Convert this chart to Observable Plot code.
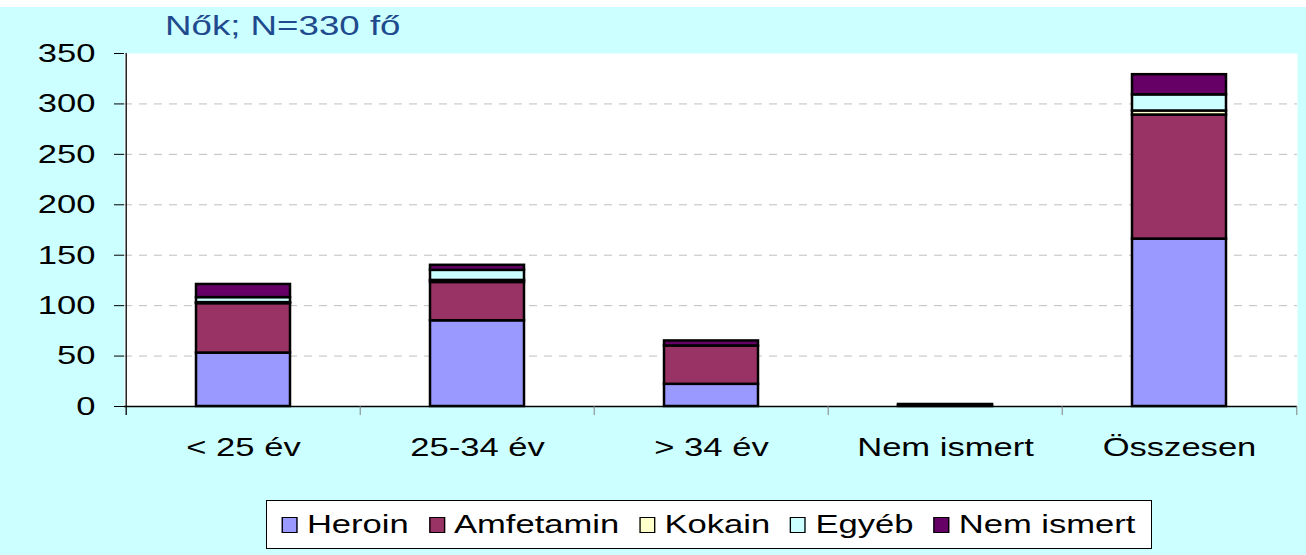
<!DOCTYPE html>
<html>
<head>
<meta charset="utf-8">
<script src="https://cdn.jsdelivr.net/npm/d3@7"></script>
<script src="https://cdn.jsdelivr.net/npm/@observablehq/plot@0.6"></script>
<style>
  html, body { margin: 0; padding: 0; }
  body {
    width: 1306px; height: 555px; position: relative; overflow: hidden;
    background: linear-gradient(#ffffff 0 7px, #CCFFFF 7px);
    font-family: "Liberation Sans", Arial, sans-serif;
  }
  #chart { position: absolute; left: 0; top: 0; }
  #title {
    position: absolute; left: 165px; top: 12px; font-size: 28px; line-height: 1;
    color: #1F4B8E; white-space: nowrap; transform-origin: left center; transform: scaleX(1.31);
  }
  #legend {
    position: absolute; left: 266px; top: 500px; width: 884px; height: 47px;
    background: #fff; border: 1px solid #000; overflow: hidden;
  }
  #legend .row {
    position: absolute; left: 0; top: 0; height: 47px; display: flex; align-items: center;
    padding-left: 11px; transform-origin: left center; transform: scaleX(1.33);
    white-space: nowrap; font-size: 26px; color: #000;
  }
  #legend .item { display: flex; align-items: center; margin-right: 15px; }
  #legend .sw { width: 12px; height: 16px; border: 1.5px solid #000; box-sizing: border-box; margin-right: 7px; }
</style>
</head>
<body>
<div id="chart"></div>
<div id="title">Nők; N=330 fő</div>
<div id="legend"><div class="row"></div></div>
<script>
// ---- data ----
const categories = ["< 25 év", "25-34 év", "> 34 év", "Nem ismert", "Összesen"];
const series = ["Heroin", "Amfetamin", "Kokain", "Egyéb", "Nem ismert"];
const heroin    = [53, 85, 22, 1, 166];
const amfetamin = [49, 38, 38, 0, 123];
const kokain    = [1, 2, 0, 0, 4];
const egyeb     = [5, 10, 0, 0, 16];
const nemIsmert = [13, 5, 5, 1, 20];
const colors = ["#9999FF", "#993366", "#FFFFCC", "#CCFFFF", "#660066"];
const yTicks = [0, 50, 100, 150, 200, 250, 300, 350];
const gridTicks = [50, 100, 150, 200, 250, 300];

const seriesValues = [heroin, amfetamin, kokain, egyeb, nemIsmert];
const rows = [];
series.forEach((s, si) => categories.forEach((c, ci) => {
  const v = seriesValues[si][ci];
  if (v > 0) rows.push({category: c, series: s, value: v});
}));

// ---- layout ----
const W = 1306, H = 490, mL = 124, mR = 9, mT = 53, mB = 84;
const step = (W - mL - mR) / categories.length;
const font = "'Liberation Sans', Arial, sans-serif";

const chart = Plot.plot({
  width: W, height: H,
  marginLeft: mL, marginRight: mR, marginTop: mT, marginBottom: mB,
  style: {background: "transparent", fontFamily: font, fontSize: "26px", color: "#000"},
  x: {domain: categories, paddingInner: 0.6, paddingOuter: 0.3, label: null},
  y: {domain: [0, 350], label: null},
  color: {domain: series, range: colors},
  marks: [
    Plot.frame({fill: "white", stroke: null}),
    Plot.gridY(gridTicks, {stroke: "#BFBFBF", strokeOpacity: 1, strokeDasharray: "8,7"}),
    Plot.barY(rows, {x: "category", y: "value", fill: "series", stroke: "#000", strokeWidth: 2.5, order: series}),
    Plot.ruleY([0], {stroke: "#000", strokeWidth: 1.3}),
    // category boundary ticks
    Plot.ruleX(categories.slice(1), {x: d => d, y1: 0, y2: -9, dx: -step / 2, stroke: "#808080"}),
    Plot.ruleX(categories.slice(-1), {x: d => d, y1: 0, y2: -9, dx: step / 2, stroke: "#808080"}),
    // y axis line
    Plot.ruleX(categories.slice(0, 1), {x: d => d, y1: -9, y2: 350, dx: -step / 2, stroke: "#000", strokeWidth: 1.3}),
    Plot.axisY({ticks: yTicks, tickSize: 10, tickPadding: 19, stroke: "#000", fill: "#000", label: null}),
    Plot.axisX({tickSize: 0, tickPadding: 31, fill: "#000", label: null})
  ]
});
document.getElementById("chart").appendChild(chart);

// horizontal stretch of text, like the reference
const k = 1.33;
chart.querySelectorAll("text").forEach(t => {
  const x = +t.getAttribute("x") || 0;
  const tr = t.getAttribute("transform") || "";
  t.setAttribute("x", 0);
  t.setAttribute("transform", `${tr} translate(${x},0) scale(${k},1)`);
});

// legend
const row = document.querySelector("#legend .row");
series.forEach((s, i) => {
  const item = document.createElement("div");
  item.className = "item";
  const sw = document.createElement("div");
  sw.className = "sw";
  sw.style.background = colors[i];
  const lab = document.createElement("span");
  lab.textContent = s;
  item.appendChild(sw); item.appendChild(lab);
  row.appendChild(item);
});
</script>
</body>
</html>
